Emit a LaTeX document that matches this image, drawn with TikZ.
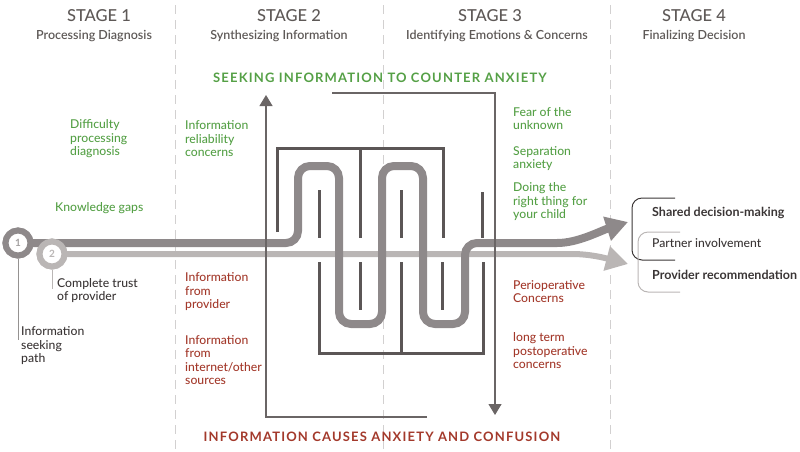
\documentclass[tikz,border=0pt]{standalone}
\usepackage{fontspec}
\setmainfont{Lato}
\newfontfamily\midfont{Lato Medium}
\newfontfamily\semifont{Lato Semibold}
\newfontfamily\bannerfont[LetterSpace=9]{Lato}
\usetikzlibrary{arrows.meta}
\definecolor{headgray}{HTML}{5E5957}
\definecolor{inkgray}{HTML}{3A3535}
\definecolor{leafgreen}{HTML}{55A046}
\definecolor{brickred}{HTML}{A3392B}
\definecolor{wallgray}{HTML}{5B5656}
\definecolor{guidegray}{HTML}{6A6565}
\definecolor{dashgray}{HTML}{D2D0D0}
\definecolor{routedark}{HTML}{8E898A}
\definecolor{routelight}{HTML}{BAB6B5}

\begin{document}
\begin{tikzpicture}[x=1pt,y=-1pt,
  stagehead/.style={text=headgray,font=\midfont\fontsize{16.5}{18}\selectfont},
  stagesub/.style={text=headgray,font=\semifont\fontsize{12.5}{14}\selectfont},
  note/.style={anchor=west,align=left,inner sep=0pt,font=\midfont\fontsize{12.2}{13.5}\selectfont},
  good/.style={note,text=leafgreen},
  bad/.style={note,text=brickred},
  plain/.style={note,text=inkgray},
  banner/.style={font=\bannerfont\bfseries\fontsize{13}{16}\selectfont},
  wall/.style={draw=wallgray,line width=3pt},
  guide/.style={draw=guidegray,line width=1.2pt,-{Triangle[length=11pt,width=13pt]}},
  divider/.style={draw=dashgray,line width=1pt,dash pattern=on 9pt off 6pt},
  marker/.style={circle,line width=6pt,fill=white,minimum size=25pt,inner sep=0pt,
    font=\fontsize{10}{10}\selectfont\bfseries},
  route/.style={line width=#1,rounded corners=12pt},
]
\useasboundingbox (0,0) rectangle (800,451);

% stage dividers
\foreach \x in {175,383,610}
  \draw[divider] (\x,5) -- (\x,451);

% stage headings
\node[stagehead] (s1) at (99,16) {STAGE 1};
\node[stagesub] (s1t) at (94,36) {Processing Diagnosis};
\node[stagehead] (s2) at (289,16) {STAGE 2};
\node[stagesub] (s2t) at (279,36) {Synthesizing Information};
\node[stagehead] (s3) at (490,16) {STAGE 3};
\node[stagesub] (s3t) at (497,36) {Identifying Emotions \& Concerns};
\node[stagehead] (s4) at (694,16) {STAGE 4};
\node[stagesub] (s4t) at (694,36) {Finalizing Decision};

% banners
\node[banner,text=leafgreen] (seek) at (380,78) {SEEKING INFORMATION TO COUNTER ANXIETY};
\node[banner,text=brickred] (cause) at (382,437) {INFORMATION CAUSES ANXIETY AND CONFUSION};

% maze walls
\draw[wall] (277,232) -- (277,148) -- (443,148) -- (443,238);
\draw[wall] (360,148) -- (360,238);
\foreach \x/\y in {319/190,401/190,482/192}
  \draw[wall] (\x,\y) -- (\x,238);
\draw[wall] (319,262) -- (319,353) -- (483,353) -- (483,262);
\draw[wall] (401,262) -- (401,353);
\foreach \x in {360,442}
  \draw[wall] (\x,262) -- (\x,310);

% markers and arrow tips
\node[marker,draw=routedark,text=routedark!80] (one) at (18,243) {1};
\node[marker,draw=routelight,text=routelight] (two) at (52,254) {2};
\coordinate (tip1) at (628,222);
\coordinate (tip2) at (628,264);

% the two paths
\draw[route=6pt,routelight,-{Triangle[length=22pt,width=24pt]}]
  (two.center) -- (560,254) .. controls (590,254) and (605,258) .. (tip2);
\draw[route=8pt,routedark,-{Triangle[length=22pt,width=24pt]}]
  (one.center) -- (298,243) -- (298,166) -- (339,166) -- (339,324)
  -- (382,324) -- (382,166) -- (423,166) -- (423,324) -- (465,324)
  -- (465,243) -- (545,243) .. controls (578,243) and (600,231) .. (tip1);
\node[marker,draw=routedark,text=routedark!80] at (one) {1};
\node[marker,draw=routelight,text=routelight] at (two) {2};

% seeking / causing guides
\coordinate (up0) at (427,417);
\coordinate (up1) at (266,417);
\coordinate (up2) at (266,95);
\coordinate (dn0) at (332,93);
\coordinate (dn1) at (495,93);
\coordinate (dn2) at (495,415);
\draw[guide] (up0) -- (up1) -- (up2);
\draw[guide] (dn0) -- (dn1) -- (dn2);

% marker labels
\coordinate (lead1) at (18,340);
\coordinate (lead2) at (52,289);
\draw[routelight!80!black,line width=0.8pt] (one.south) -- (lead1);
\draw[routelight,line width=0.8pt] (two.south) -- (lead2);
\node[plain] (seekpath) at (21,346) {Information\\seeking\\path};
\node[plain] (trust) at (57,290.5) {Complete trust\\of provider};

% stage notes
\node[good] (diff) at (70,139) {Difficulty\\processing\\diagnosis};
\node[good] (gaps) at (55,208) {Knowledge gaps};
\node[good] (reli) at (185,139) {Information\\reliability\\concerns};
\node[bad] (fromprov) at (185,292) {Information\\from\\provider};
\node[bad] (fromnet) at (185,360) {Information\\from\\internet/other\\sources};
\node[good] (fear) at (513,118.5) {Fear of the\\unknown};
\node[good] (sep) at (513,158.5) {Separation\\anxiety};
\node[good] (right) at (513,202) {Doing the\\right thing for\\your child};
\node[bad] (periop) at (513,291.5) {Perioperative\\Concerns};
\node[bad] (postop) at (513,351) {long term\\postoperative\\concerns};

% decision brackets
\draw[inkgray,line width=1pt,rounded corners=10pt] (675,198) -- (632,198) -- (632,260) -- (675,260);
\draw[routelight,line width=1pt,rounded corners=10pt] (680,232) -- (638,232) -- (638,292) -- (680,292);
\node[plain,font=\fontsize{12.5}{14}\selectfont\bfseries] (shared) at (652,213) {Shared decision-making};
\node[plain] (partner) at (652,243) {Partner involvement};
\node[plain,font=\fontsize{12.5}{14}\selectfont\bfseries] (provrec) at (652,275) {Provider recommendation};
\end{tikzpicture}
\end{document}
